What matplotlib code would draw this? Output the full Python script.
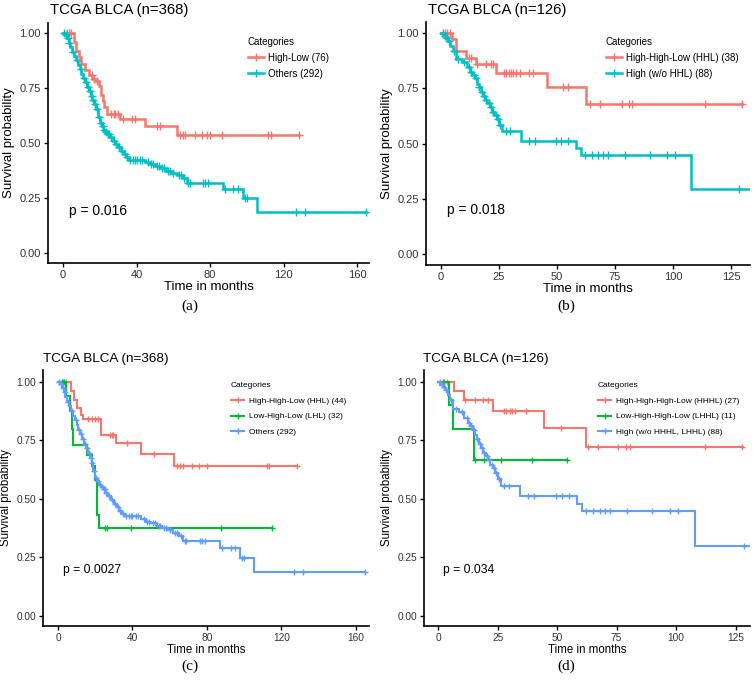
import numpy as np
import matplotlib
matplotlib.use('Agg')
import matplotlib.pyplot as plt
from matplotlib.lines import Line2D

plt.rcParams['font.family'] = ['Liberation Sans', 'DejaVu Sans']

RED, CYAN, GREEN, BLUE = '#F8766D', '#00BFC4', '#00BA38', '#619CFF'

# ---------------- data ----------------
# Panel (a): High-Low (76) vs Others (292)
A_HL_t = [0, 6, 7, 8.5, 10, 12, 14, 16, 18, 19.5, 20.5, 21.5, 22.5, 24, 31, 44.5, 62]
A_HL_s = [1.0, 0.96, 0.92, 0.89, 0.86, 0.83, 0.81, 0.79, 0.78, 0.76, 0.72, 0.69, 0.665, 0.63, 0.607, 0.575, 0.536]
A_HL_end = 128.6
A_HL_cens = [2, 3.5, 4.5, 15.6, 16.8, 18.3, 26, 27.5, 28.5, 30, 32.5, 37.5, 39, 51, 53,
             63.7, 65.5, 66.4, 72, 75.5, 78.5, 80, 86.7, 111.7, 113.2, 128.6]

OTH_t = [0, 1, 2, 3, 4, 5, 6, 7, 8, 9, 10, 11, 12, 13, 14, 15, 16, 17, 18, 19, 20, 21, 22, 23, 24,
         25.5, 27, 28.5, 30, 31.5, 33, 34.5, 36, 44.6, 47, 50, 53, 56, 59, 62, 65, 67.3, 87.2, 97.8, 105.4]
OTH_s = [1.0, 0.99, 0.975, 0.955, 0.935, 0.915, 0.895, 0.875, 0.855, 0.835, 0.815, 0.795, 0.775, 0.755,
         0.735, 0.715, 0.695, 0.675, 0.655, 0.62, 0.59, 0.575, 0.56, 0.55, 0.54, 0.525, 0.51, 0.495, 0.48,
         0.465, 0.45, 0.435, 0.425, 0.413, 0.403, 0.395, 0.385, 0.375, 0.365, 0.355, 0.34, 0.32, 0.29,
         0.249, 0.188]
OTH_end = 164.7
OTH_cens = [0.5, 1.5, 2.5, 3.5, 5.5, 7.5, 9.5, 11.5, 12.5, 13.5, 14.5, 15.5, 16.5, 17.5, 18.5, 19.5,
            20.5, 21.5, 22.5, 23.5, 24.5, 25, 26, 27.5, 29, 30.5, 32, 33.5, 35, 36.5, 38, 39, 40, 42, 43,
            46, 48, 49, 51, 52, 54, 55, 57, 58, 60, 63, 64, 66, 68, 69, 76.4, 77.3, 79, 88, 92.7, 95.3,
            99, 100, 126.6, 131.7, 164.7]

# Panel (b): High-High-Low (38) vs High (w/o HHL) (88)
B_HHL_t = [0, 4.9, 6.6, 10.9, 15.2, 23.8, 45.8, 62.5]
B_HHL_s = [1.0, 0.974, 0.921, 0.889, 0.858, 0.82, 0.757, 0.681]
B_HHL_end = 129.9
B_HHL_cens = [1.6, 2.5, 3.7, 12, 13, 15.6, 19.5, 21.7, 22.4, 27, 28.2, 29.4, 30, 30.8, 32.2, 33.9,
              37.9, 39.7, 52.6, 54.7, 64.2, 68.5, 77.9, 81, 82.2, 113.8, 129.9]

HIGH_t = [0, 1, 2, 3, 4, 5, 6.3, 8.9, 11, 12.5, 13.5, 14.5, 15.4, 16.2, 17, 18, 19, 20, 21, 22, 23,
          24, 25, 26.4, 34.3, 58.3, 60.5, 107.8]
HIGH_s = [1.0, 0.988, 0.977, 0.965, 0.942, 0.92, 0.885, 0.87, 0.847, 0.825, 0.81, 0.795, 0.772, 0.757,
          0.735, 0.715, 0.697, 0.682, 0.667, 0.645, 0.63, 0.61, 0.585, 0.556, 0.513, 0.48, 0.447, 0.297]
HIGH_end = 134
HIGH_cens = [0.8, 1.5, 2.5, 3.5, 5.5, 7.5, 10, 12, 13, 14, 15, 16.5, 17.5, 18.5, 19.5, 20.5, 21.5,
             22.5, 23.5, 24.5, 25.5, 27.9, 29.9, 37.9, 40.4, 49.7, 51.9, 54.9, 62, 64.9, 67.8, 70,
             72.1, 79.3, 90, 97.3, 100.9, 128.5]

# Panel (c): HHL (44), LHL (32), Others (292)
C_HHL_t = [0, 6.8, 8.6, 10.4, 12.2, 13.6, 23.1, 31, 44.4, 62.3]
C_HHL_s = [1.0, 0.959, 0.923, 0.888, 0.859, 0.84, 0.774, 0.738, 0.692, 0.641]
C_HHL_end = 128.2
C_HHL_cens = [2.9, 4.3, 16.3, 18.1, 19.9, 21.6, 27.9, 28.8, 29.7, 36.9, 51.5, 63.7, 65.5, 66.9,
              71.9, 75.8, 79.8, 112, 113.5, 128.2]

C_LHL_t = [0, 4.5, 6.4, 7.3, 8.2, 15.6, 18.2, 20, 20.9, 21.8]
C_LHL_s = [1.0, 0.937, 0.873, 0.80, 0.731, 0.689, 0.639, 0.581, 0.431, 0.374]
C_LHL_end = 114.8
C_LHL_cens = [2, 3, 25.4, 26.3, 39.3, 87.4, 114.8]

# Panel (d): HHHL (27), LHHL (11), High (w/o HHHL, LHHL) (88)
D_HHHL_t = [0, 6.6, 10.7, 23.1, 44.7, 62.2]
D_HHHL_s = [1.0, 0.962, 0.924, 0.875, 0.802, 0.722]
D_HHHL_end = 128
D_HHHL_cens = [2.5, 3.9, 11.5, 15.4, 18.9, 21, 27.7, 28.7, 30.1, 31.1, 32.2, 37.1, 51.8,
               63, 67.2, 75.6, 79.1, 80.5, 112, 127.8]

D_LHHL_t = [0, 4.4, 6.2, 14.9]
D_LHHL_s = [1.0, 0.9, 0.8, 0.667]
D_LHHL_end = 54.2
D_LHHL_cens = [2.1, 15.5, 19.3, 26.6, 39.3, 54.2]

Y_TICKS = [0.0, 0.25, 0.5, 0.75, 1.0]
Y_LABELS = ['0.00', '0.25', '0.50', '0.75', '1.00']
X_TICKS_368 = [0, 40, 80, 120, 160]
X_TICKS_126 = [0, 25, 50, 75, 100, 125]

W, H = 756, 687
fig = plt.figure(figsize=(W / 100, H / 100), dpi=100)


def add_ax(l, t, r, b):
    return fig.add_axes([l / W, 1 - b / H, (r - l) / W, (b - t) / H])


def surv_at(t_ev, s_ev, x):
    idx = np.searchsorted(np.asarray(t_ev), np.asarray(x), side='right') - 1
    return np.asarray(s_ev)[idx]


def km(ax, t_ev, s_ev, end, cens, color, lw, ms):
    t = list(t_ev) + [end]
    s = list(s_ev) + [s_ev[-1]]
    ax.step(t, s, where='post', color=color, lw=lw, solid_joinstyle='miter')
    c = np.asarray(cens, dtype=float)
    ax.plot(c, surv_at(t_ev, s_ev, c), ls='none', marker='+', color=color, ms=ms, mew=1.0)


def style(ax, xlim, xticks, ylim, fs_tick, fs_lab, lab_pad_x, lab_pad_y):
    ax.set_xlim(xlim)
    ax.set_ylim(ylim)
    ax.set_xticks(xticks)
    ax.set_yticks(Y_TICKS)
    ax.set_yticklabels(Y_LABELS)
    for sp in ['top', 'right']:
        ax.spines[sp].set_visible(False)
    for sp in ['left', 'bottom']:
        ax.spines[sp].set_linewidth(1.2)
    ax.tick_params(length=3, width=1.0, labelsize=fs_tick, colors='black',
                   labelcolor='#333333', pad=2)
    ax.set_xlabel('Time in months', fontsize=fs_lab, labelpad=lab_pad_x)
    ax.set_ylabel('Survival probability', fontsize=fs_lab, labelpad=lab_pad_y)


def legend(ax, x, y, colors, labels, fs, lw, ms, spacing):
    handles = [Line2D([], [], color=c, lw=lw, marker='+', ms=ms, mew=1.0) for c in colors]
    ax.legend(handles, labels, title='Categories', loc='upper left',
              bbox_to_anchor=(x / W, 1 - y / H), bbox_transform=fig.transFigure,
              frameon=False, fontsize=fs, title_fontsize=fs, handlelength=1.6,
              handletextpad=0.5, labelspacing=spacing, borderpad=0, borderaxespad=0,
              alignment='left', numpoints=1)


# ---------------- (a) ----------------
axa = add_ax(48, 23, 369, 263)
km(axa, A_HL_t, A_HL_s, A_HL_end, A_HL_cens, RED, 1.8, 6)
km(axa, OTH_t, OTH_s, OTH_end, OTH_cens, CYAN, 1.8, 6)
style(axa, (-8.2, 166.5), X_TICKS_368, (-0.045, 1.045), 8, 9.5, 1, 3)
axa.text(3.3, 0.19, 'p = 0.016', fontsize=10, va='center', ha='left')
legend(axa, 248, 37, [RED, CYAN], ['High-Low (76)', 'Others (292)'], 7, 1.8, 6, 0.6)
fig.text(50 / W, 1 - 10 / H, 'TCGA BLCA (n=368)', fontsize=10.7, ha='left', va='center')

# ---------------- (b) ----------------
axb = add_ax(426, 22, 750, 265)
km(axb, B_HHL_t, B_HHL_s, B_HHL_end, B_HHL_cens, RED, 1.8, 6)
km(axb, HIGH_t, HIGH_s, HIGH_end, HIGH_cens, CYAN, 1.8, 6)
style(axb, (-6.5, 133.2), X_TICKS_126, (-0.048, 1.05), 8, 9.5, 1, 3)
axb.text(2.6, 0.2, 'p = 0.018', fontsize=10, va='center', ha='left')
legend(axb, 606, 37, [RED, CYAN], ['High-High-Low (HHL) (38)', 'High (w/o HHL) (88)'], 7, 1.8, 6, 0.6)
fig.text(428 / W, 1 - 10 / H, 'TCGA BLCA (n=126)', fontsize=10.7, ha='left', va='center')

# ---------------- (c) ----------------
axc = add_ax(43, 370, 369, 626)
km(axc, C_HHL_t, C_HHL_s, C_HHL_end, C_HHL_cens, RED, 1.5, 5)
km(axc, C_LHL_t, C_LHL_s, C_LHL_end, C_LHL_cens, GREEN, 1.5, 5)
km(axc, OTH_t, OTH_s, OTH_end, OTH_cens, BLUE, 1.5, 5)
style(axc, (-8.05, 167), X_TICKS_368, (-0.043, 1.05), 7.3, 8.3, 1, 3)
axc.text(2.7, 0.197, 'p = 0.0027', fontsize=8.7, va='center', ha='left')
legend(axc, 231, 382, [RED, GREEN, BLUE],
       ['High-High-Low (HHL) (44)', 'Low-High-Low (LHL) (32)', 'Others (292)'], 6, 1.5, 5, 0.95)
fig.text(43 / W, 1 - 359 / H, 'TCGA BLCA (n=368)', fontsize=9.7, ha='left', va='center')

# ---------------- (d) ----------------
axd = add_ax(424, 370, 750, 626)
km(axd, D_HHHL_t, D_HHHL_s, D_HHHL_end, D_HHHL_cens, RED, 1.5, 5)
km(axd, D_LHHL_t, D_LHHL_s, D_LHHL_end, D_LHHL_cens, GREEN, 1.5, 5)
km(axd, HIGH_t, HIGH_s, HIGH_end, HIGH_cens, BLUE, 1.5, 5)
style(axd, (-5.9, 131), X_TICKS_126, (-0.043, 1.05), 7.3, 8.3, 1, 3)
axd.text(2.1, 0.197, 'p = 0.034', fontsize=8.7, va='center', ha='left')
legend(axd, 598, 382, [RED, GREEN, BLUE],
       ['High-High-High-Low (HHHL) (27)', 'Low-High-High-Low (LHHL) (11)',
        'High (w/o HHHL, LHHL) (88)'], 6, 1.5, 5, 0.95)
fig.text(423 / W, 1 - 359 / H, 'TCGA BLCA (n=126)', fontsize=9.7, ha='left', va='center')

# sub-figure labels
for lab, x, y in [('(a)', 190, 306), ('(b)', 566, 306), ('(c)', 190, 666), ('(d)', 566, 666)]:
    fig.text(x / W, 1 - y / H, lab, family=['Liberation Serif', 'DejaVu Serif'],
             fontsize=11, ha='center', va='center')

fig.savefig('out.png', dpi=100)
